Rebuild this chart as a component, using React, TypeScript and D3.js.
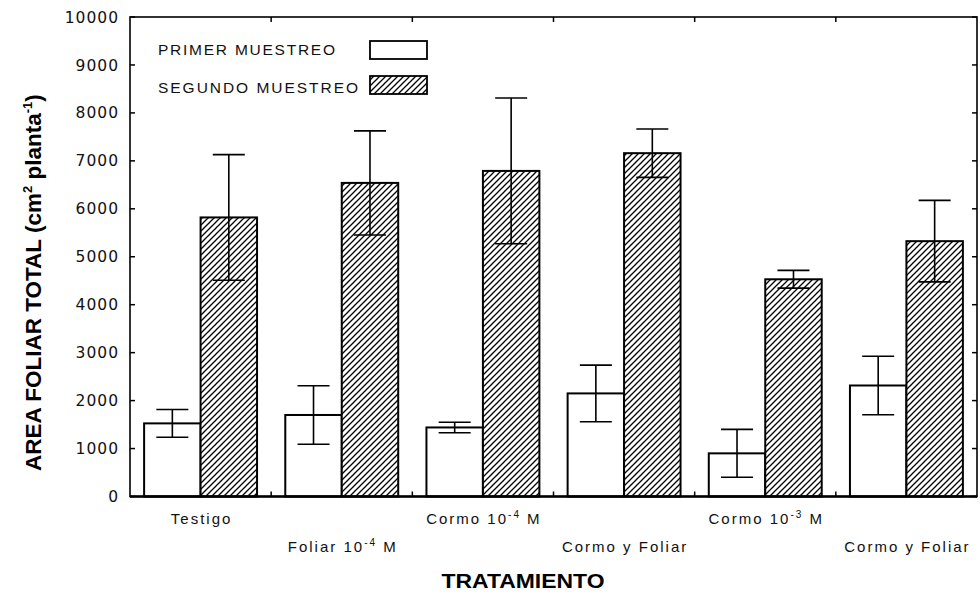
import React from "react";
import * as d3 from "d3";

const catBase = ["Testigo", "Foliar 10", "Cormo 10", "Cormo y Foliar", "Cormo 10", "Cormo y Foliar"];
const catSup = ["", "-4", "-4", "", "-3", ""];
const catSuffix = ["", " M", " M", "", " M", ""];

const primer = [1525, 1700, 1440, 2150, 900, 2315];
const primerErr = [290, 610, 110, 590, 500, 610];
const segundo = [5820, 6540, 6790, 7160, 4530, 5325];
const segundoErr = [1310, 1085, 1520, 505, 185, 850];

const yTicks = [0, 1000, 2000, 3000, 4000, 5000, 6000, 7000, 8000, 9000, 10000];
const seriesNames = ["PRIMER MUESTREO", "SEGUNDO MUESTREO"];

const W = 980;
const H = 596;
const L = 130;
const R = 977;
const T = 17;
const B = 496.5;

export default function App() {
  const idx = catBase.map((_, i) => i);
  const x = d3.scaleBand<number>().domain(idx).range([L, R]).paddingInner(0).paddingOuter(0);
  const bw = x.bandwidth();
  const inner = d3.scaleBand<number>().domain([0, 1]).range([bw * 0.1, bw * 0.9]);
  const y = d3.scaleLinear().domain([0, 10000]).range([B, T]);
  const sansFont = "'Liberation Sans', Arial, sans-serif";
  const digitFont = "'DejaVu Sans', Verdana, sans-serif";
  const series = [
    { v: primer, e: primerErr, fill: "#fff" },
    { v: segundo, e: segundoErr, fill: "url(#hatch)" },
  ];
  const cap = 16;
  return (
    <svg width={W} height={H} style={{ position: "absolute", left: 0, top: 0, background: "#fff" }}>
      <defs>
        <pattern id="hatch" patternUnits="userSpaceOnUse" width={6} height={6}>
          <rect width={6} height={6} fill="#fff" />
          <path d="M0,6 L6,0 M-1,1 L1,-1 M5,7 L7,5" stroke="#000" strokeWidth={1.3} />
        </pattern>
      </defs>
      {/* bars */}
      {series.map((s, si) =>
        idx.map((i) => {
          const x0 = (x(i) as number) + (inner(si) as number);
          const w = inner.bandwidth();
          return (
            <rect
              key={`b${si}-${i}`}
              x={x0}
              y={y(s.v[i])}
              width={w}
              height={B - y(s.v[i])}
              fill={s.fill}
              stroke="#000"
              strokeWidth={2}
            />
          );
        })
      )}
      {/* error bars */}
      {series.map((s, si) =>
        idx.map((i) => {
          const cx = (x(i) as number) + (inner(si) as number) + inner.bandwidth() / 2;
          const hi = y(s.v[i] + s.e[i]);
          const lo = y(s.v[i] - s.e[i]);
          return (
            <g key={`e${si}-${i}`} stroke="#000" strokeWidth={1.6}>
              <line x1={cx} x2={cx} y1={hi} y2={lo} />
              <line x1={cx - cap} x2={cx + cap} y1={hi} y2={hi} />
              <line x1={cx - cap} x2={cx + cap} y1={lo} y2={lo} />
            </g>
          );
        })
      )}
      {/* frame */}
      <rect x={L} y={T} width={R - L} height={B - T} fill="none" stroke="#000" strokeWidth={1.6} />
      <line x1={L} x2={R} y1={B} y2={B} stroke="#000" strokeWidth={2.5} />
      {/* y ticks */}
      {yTicks.map((t) => (
        <g key={`yt${t}`}>
          <line x1={L} x2={L + 5} y1={y(t)} y2={y(t)} stroke="#000" strokeWidth={1.5} />
          <line x1={R - 5} x2={R} y1={y(t)} y2={y(t)} stroke="#000" strokeWidth={1.5} />
          <text
            x={119}
            y={y(t)}
            dy="0.36em"
            textAnchor="end"
            fontFamily={digitFont}
            fontSize={15.5}
            letterSpacing={1}
            fill="#111"
          >
            {t}
          </text>
        </g>
      ))}
      {/* x boundary ticks */}
      {idx.slice(1).map((i) => (
        <g key={`xt${i}`} stroke="#000" strokeWidth={1.5}>
          <line x1={x(i) as number} x2={x(i) as number} y1={B} y2={B - 5} />
          <line x1={x(i) as number} x2={x(i) as number} y1={T} y2={T + 5} />
        </g>
      ))}
      {/* category labels */}
      {idx.map((i) => (
        <text
          key={`cl${i}`}
          x={(x(i) as number) + bw / 2 + 1}
          y={i % 2 === 0 ? 524 : 552}
          textAnchor="middle"
          fontFamily={sansFont}
          fontSize={15}
          letterSpacing={2}
          fill="#111"
        >
          {catBase[i]}
          {catSup[i] ? (
            <tspan dy={-6} fontSize={10}>
              {catSup[i]}
            </tspan>
          ) : null}
          {catSuffix[i] ? <tspan dy={catSup[i] ? 6 : 0}>{catSuffix[i]}</tspan> : null}
        </text>
      ))}
      {/* axis titles */}
      <text
        x={441.5}
        y={588}
        fontFamily={sansFont}
        fontWeight="bold"
        fontSize={21}
        textLength={163}
        lengthAdjust="spacingAndGlyphs"
        fill="#000"
      >
        TRATAMIENTO
      </text>
      <text
        transform={`translate(41,${471}) rotate(-90)`}
        fontFamily={sansFont}
        fontWeight="bold"
        fontSize={22.5}
        fill="#000"
      >
        AREA FOLIAR TOTAL (cm
        <tspan dy={-9} fontSize={13}>2</tspan>
        <tspan dy={9}> planta</tspan>
        <tspan dy={-9} fontSize={13}>-1</tspan>
        <tspan dy={9}>)</tspan>
      </text>
      {/* legend */}
      {seriesNames.map((n, si) => (
        <g key={`lg${si}`}>
          <text
            x={158}
            y={si === 0 ? 55 : 93}
            fontFamily={sansFont}
            fontSize={15.5}
            textLength={si === 0 ? 177 : 200}
            lengthAdjust="spacing"
            fill="#111"
          >
            {n}
          </text>
          <rect
            x={370}
            y={si === 0 ? 41 : 76}
            width={57}
            height={18}
            fill={series[si].fill}
            stroke="#000"
            strokeWidth={1.8}
          />
        </g>
      ))}
    </svg>
  );
}
